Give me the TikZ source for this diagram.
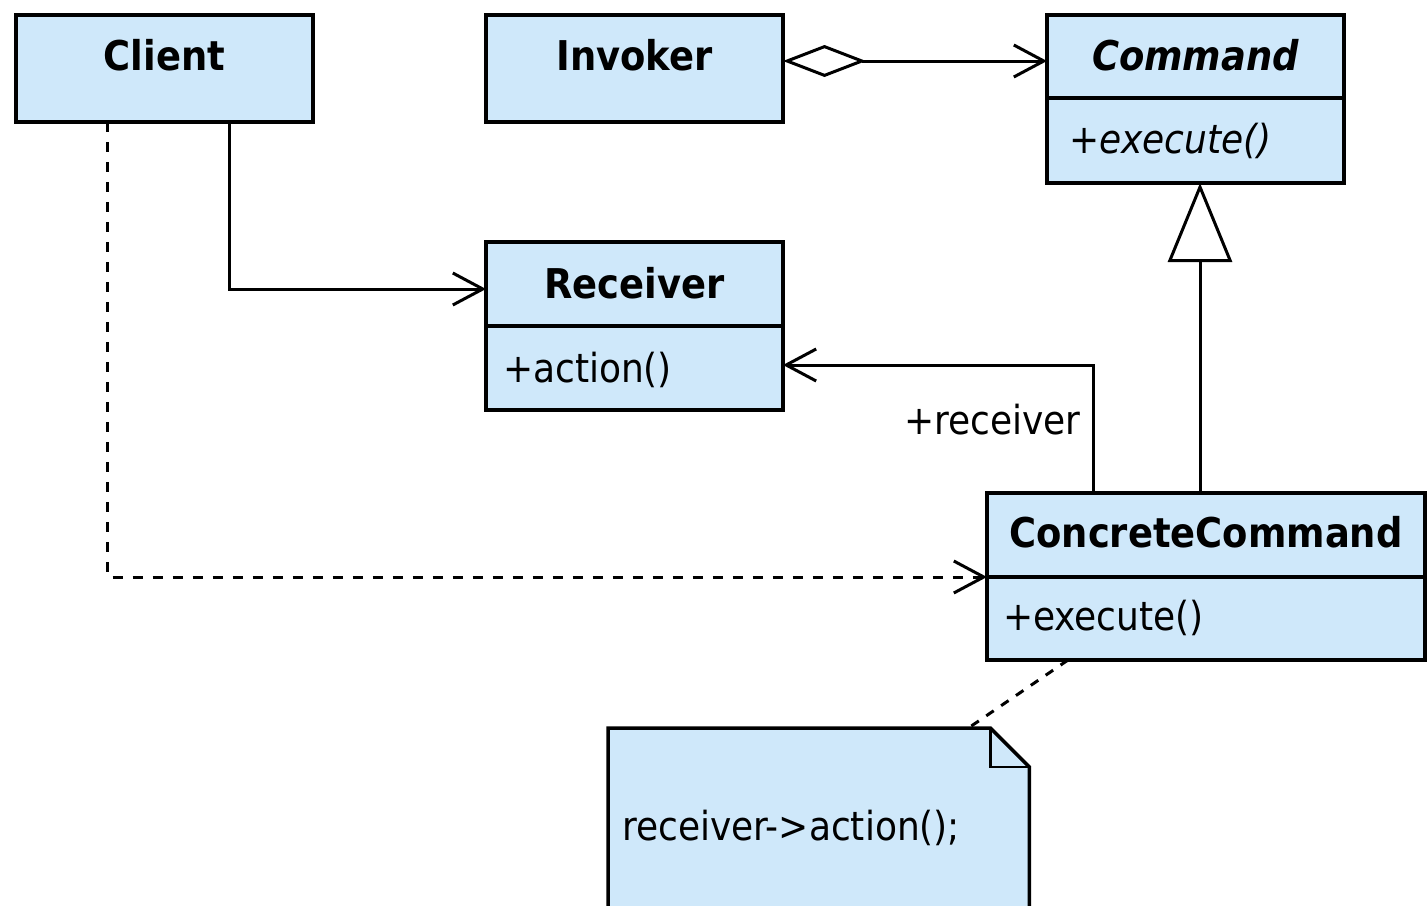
\documentclass[tikz,border=0pt]{standalone}
\usepackage{fontspec}
\setmainfont{DejaVu Sans Condensed}
\usetikzlibrary{arrows.meta,calc,backgrounds}
\definecolor{classfill}{RGB}{207,232,250}
\begin{document}
\begin{tikzpicture}[x=1pt,y=-1pt,
  box/.style={draw=black, line width=3.5pt, fill=classfill, inner sep=0pt, outer sep=0pt},
  classhead/.style={box, anchor=north west, font=\fontsize{41pt}{41pt}\selectfont\bfseries},
  classbody/.style={box, anchor=north west, font=\fontsize{40pt}{40pt}\selectfont, align=left},
  link/.style={line width=3pt},
  assoc/.style={link, -{Straight Barb[length=30pt,width=32pt]}},
  dep/.style={assoc, dash pattern=on 10pt off 10pt},
  aggr/.style={link, {Diamond[fill=white,length=83pt,width=32pt]}-{Straight Barb[length=30pt,width=32pt]}},
  realize/.style={link, -{Triangle[fill=white,length=79pt,width=64pt]}},
  notelink/.style={link, dash pattern=on 9pt off 9pt},
  rolelabel/.style={font=\fontsize{40pt}{40pt}\selectfont, inner sep=0pt}
]
\useasboundingbox (0,0) rectangle (1427,905);

% classes
\node[classhead, minimum width=297pt, text height=55pt, text depth=52pt] (client) at (16,15) {Client};
\node[classhead, minimum width=297pt, text height=55pt, text depth=52pt] (invoker) at (486,15) {Invoker};

\node[classhead, minimum width=297pt, text height=55pt, text depth=28pt, font=\fontsize{41pt}{41pt}\selectfont\bfseries\itshape] (cmdhead) at (1047,15) {Command};
\node[classbody, inner xsep=22pt, text width=253pt, text height=55pt, text depth=30pt, font=\fontsize{40pt}{40pt}\selectfont\itshape] (cmdbody) at (cmdhead.south west) {+execute()};

\node[classhead, minimum width=297pt, text height=56pt, text depth=28pt] (rcvhead) at (486,242) {Receiver};
\node[classbody, inner xsep=17pt, text width=263pt, text height=56pt, text depth=28pt] (rcvbody) at (rcvhead.south west) {+action()};

\node[classhead, minimum width=438pt, text height=54pt, text depth=30pt] (cchead) at (987,493) {ConcreteCommand};
\node[classbody, inner xsep=16pt, text width=406pt, text height=53pt, text depth=30pt] (ccbody) at (cchead.south west) {+execute()};

% note with folded corner
\node[anchor=north west, inner sep=0pt, inner xsep=14pt, text width=393pt, text height=112pt, text depth=90pt, align=left, font=\fontsize{40pt}{40pt}\selectfont] (note) at (608,728) {receiver->action();};
\begin{pgfonlayer}{background}
  \draw[box] (note.north west) -- ($(note.north east)+(-39,0)$) -- ($(note.north east)+(0,39)$) -- (note.south east) -- (note.south west) -- cycle;
  \draw[line width=2.5pt] ($(note.north east)+(-39,0)$) |- ($(note.north east)+(0,39)$);
\end{pgfonlayer}

% relations
\draw[aggr] ($(invoker.east)+(0,-7.5)$) -- ($(cmdhead.west)+(0,4.5)$);
\draw[assoc] ($(client.south)+(65,0)$) |- ($(rcvhead.west)+(0,5)$);
\draw[dep] ($(client.south)+(-57,0)$) |- (cchead.south west);
\draw[assoc] ($(cchead.north west)+(106,0)$) |- node[rolelabel, pos=0.227, anchor=base east, xshift=-11pt] (role) {+receiver} ($(rcvbody.east)+(0,-3)$);
\coordinate (gen) at ($(cchead.north)+(-6,0)$);
\draw[realize] (gen) -- (gen |- cmdbody.south);
\draw[notelink] ($(ccbody.south west)+(81,0)$) -- ($(note.north east)+(-61,0)$);
\end{tikzpicture}
\end{document}
